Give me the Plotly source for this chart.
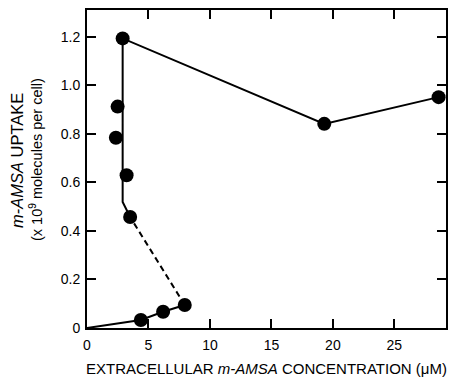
import plotly.graph_objects as go

# measured points
pt_x = [2.9, 2.49, 2.35, 3.22, 3.51, 7.95, 6.19, 4.38, 19.3, 28.6]
pt_y = [1.193, 0.912, 0.784, 0.629, 0.457, 0.095, 0.067, 0.033, 0.841, 0.951]

# fitted curve segments
low_x = [0, 4.38, 6.19, 7.95]
low_y = [0, 0.033, 0.067, 0.095]
dash_x = [7.95, 3.51]
dash_y = [0.095, 0.457]
up_x = [3.51, 2.9, 2.9, 19.3, 28.6]
up_y = [0.457, 0.519, 1.193, 0.841, 0.951]

x_ticks = [0, 5, 10, 15, 20, 25]
x_labels = ["0", "5", "10", "15", "20", "25"]
y_ticks = [0, 0.2, 0.4, 0.6, 0.8, 1.0, 1.2]
y_labels = ["0", "0.2", "0.4", "0.6", "0.8", "1.0", "1.2"]

FONT = "Liberation Sans, Arial, sans-serif"
line_style = dict(color="black", width=2)

fig = go.Figure()
fig.add_trace(go.Scatter(x=low_x, y=low_y, mode="lines", line=line_style, hoverinfo="skip"))
fig.add_trace(go.Scatter(x=dash_x, y=dash_y, mode="lines",
                         line=dict(color="black", width=2, dash="6px,4px"), hoverinfo="skip"))
fig.add_trace(go.Scatter(x=up_x, y=up_y, mode="lines", line=line_style, hoverinfo="skip"))
fig.add_trace(go.Scatter(x=pt_x, y=pt_y, mode="markers",
                         marker=dict(color="black", size=14, line=dict(width=0))))

axis_common = dict(showline=True, linecolor="black", linewidth=2, mirror="ticks",
                   ticks="inside", ticklen=9, tickwidth=2, tickcolor="black",
                   showgrid=False, zeroline=False, automargin=False,
                   tickfont=dict(family=FONT, size=14, color="black"))

fig.update_layout(
    width=454, height=380,
    margin=dict(l=87, r=8, t=10, b=52, autoexpand=False),
    plot_bgcolor="white", paper_bgcolor="white",
    showlegend=False,
    font=dict(family=FONT, color="black"),
    xaxis=dict(range=[0, 29.2], tickvals=x_ticks, ticktext=x_labels,
               ticklabelstandoff=3,
               title=dict(text="EXTRACELLULAR <i>m-AMSA</i> CONCENTRATION (μM)",
                          font=dict(family=FONT, size=15, color="black"), standoff=12),
               **axis_common),
    yaxis=dict(range=[0, 1.31], tickvals=y_ticks, ticktext=y_labels,
               ticklabelstandoff=2, **axis_common),
    annotations=[
        dict(text="<i>m-AMSA</i> UPTAKE",
             xref="paper", yref="paper", x=(17 - 87) / 359, y=(328 - 161) / 318,
             textangle=-90, showarrow=False, xanchor="center", yanchor="middle",
             font=dict(family=FONT, size=16.5, color="black")),
        dict(text="(x 10<sup>9</sup> molecules per cell)",
             xref="paper", yref="paper", x=(36 - 87) / 359, y=(328 - 160) / 318,
             textangle=-90, showarrow=False, xanchor="center", yanchor="middle",
             font=dict(family=FONT, size=14.5, color="black")),
    ],
)

fig.write_html("out.html")
